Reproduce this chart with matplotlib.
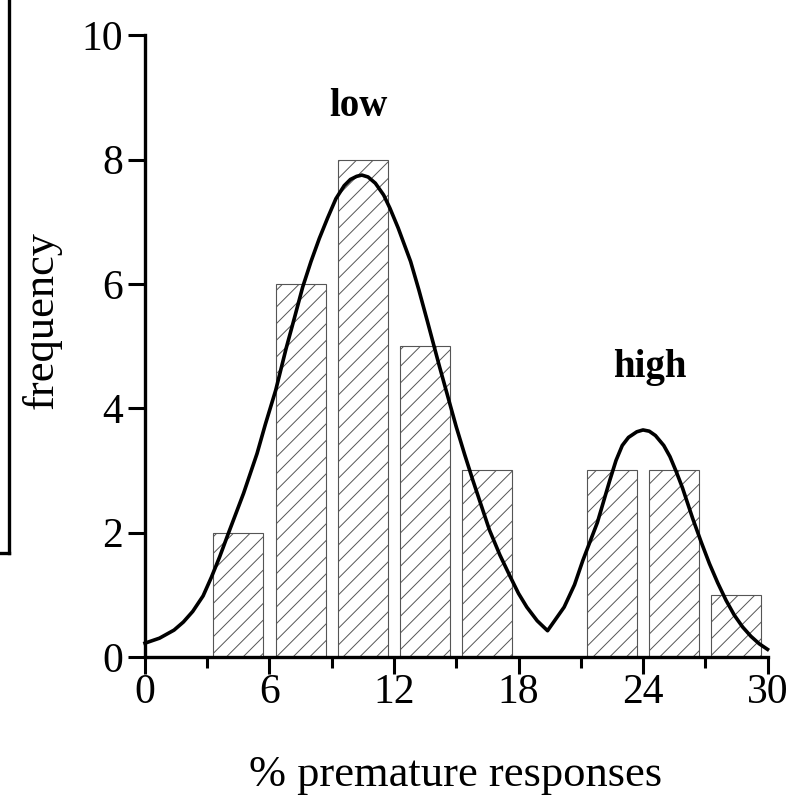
import matplotlib
matplotlib.use("Agg")
import matplotlib.pyplot as plt
from matplotlib.lines import Line2D

plt.rcParams["font.family"] = ["Liberation Serif", "DejaVu Serif"]
plt.rcParams["hatch.linewidth"] = 0.7

# --- histogram: % premature responses, bins of 3 ---
bin_centers = [4.5, 7.5, 10.5, 13.5, 16.5, 19.5, 22.5, 25.5, 28.5]
counts = [2, 6, 8, 5, 3, 0, 3, 3, 1]

# --- fitted density curve (low + high subgroups) ---
curve_x = [0.0, 0.7, 1.4, 1.85, 2.3, 2.8, 3.2, 3.6, 4.0, 4.75, 5.4, 5.8, 6.3, 6.8,
           7.2, 7.6, 8.0, 8.4, 8.8, 9.2, 9.6, 9.9, 10.2, 10.45, 10.75, 11.1, 11.5,
           11.8, 12.2, 12.8, 13.2, 13.6, 14.2, 15.0, 15.4, 15.8, 16.2, 16.6, 17.1,
           17.6, 18.0, 18.4, 18.9, 19.4, 20.2, 20.7, 21.1, 21.8, 22.4, 22.7, 23.0,
           23.3, 23.7, 24.0, 24.3, 24.6, 25.0, 25.3, 25.6, 25.9, 26.4, 26.8, 27.2,
           27.6, 28.0, 28.4, 28.8, 29.2, 29.6, 30.0]
curve_y = [0.22, 0.30, 0.43, 0.56, 0.73, 0.98, 1.28, 1.61, 1.97, 2.63, 3.27, 3.74, 4.29, 4.96,
           5.45, 5.95, 6.36, 6.73, 7.06, 7.37, 7.58, 7.68, 7.73, 7.75, 7.72, 7.62, 7.43,
           7.22, 6.90, 6.36, 5.90, 5.41, 4.66, 3.70, 3.26, 2.84, 2.44, 2.04, 1.64,
           1.29, 1.02, 0.80, 0.58, 0.42, 0.80, 1.16, 1.55, 2.16, 2.84, 3.16, 3.40,
           3.53, 3.62, 3.65, 3.63, 3.56, 3.40, 3.22, 2.98, 2.72, 2.22, 1.85, 1.50,
           1.19, 0.91, 0.67, 0.48, 0.33, 0.21, 0.12]

x_major = [0, 6, 12, 18, 24, 30]
x_minor = [3, 9, 15, 21, 27]
y_ticks = [0, 2, 4, 6, 8, 10]

fig = plt.figure(figsize=(7.88, 8.01), dpi=100)
ax = fig.add_axes([0.184, 0.180, 0.790, 0.776])

ax.bar(bin_centers, counts, width=2.4, color="white", edgecolor="#555555",
       linewidth=0.8, hatch="//", zorder=2)
ax.plot(curve_x, curve_y, color="black", lw=2.6, zorder=3, clip_on=False,
        solid_joinstyle="round")

ax.text(10.3, 8.85, "low", ha="center", va="center", fontsize=28, fontweight="bold")
ax.text(24.35, 4.65, "high", ha="center", va="center", fontsize=28, fontweight="bold")

ax.set_xlim(0, 30)
ax.set_ylim(0, 10)
ax.set_xticks(x_major)
ax.set_xticks(x_minor, minor=True)
ax.set_yticks(y_ticks)

for side in ["top", "right"]:
    ax.spines[side].set_visible(False)
for side in ["left", "bottom"]:
    ax.spines[side].set_linewidth(2.4)

ax.tick_params(axis="x", which="major", direction="out", length=12, width=2.2,
               labelsize=30, pad=0)
ax.tick_params(axis="x", which="minor", direction="out", length=8, width=2.2)
ax.tick_params(axis="y", direction="out", length=12, width=2.2, labelsize=30, pad=4)

fig.text(0.578, 0.032, "% premature responses", ha="center", va="center", fontsize=32)
fig.text(0.053, 0.600, "frequency", ha="center", va="center", rotation=90, fontsize=32)

# leftover frame edge on the left margin
fig.add_artist(Line2D([0.012, 0.012], [1.0, 0.310], color="black", lw=2.4,
                      transform=fig.transFigure))
fig.add_artist(Line2D([0.0, 0.012], [0.310, 0.310], color="black", lw=2.4,
                      transform=fig.transFigure))

fig.savefig("out.png", dpi=100, facecolor="white")
